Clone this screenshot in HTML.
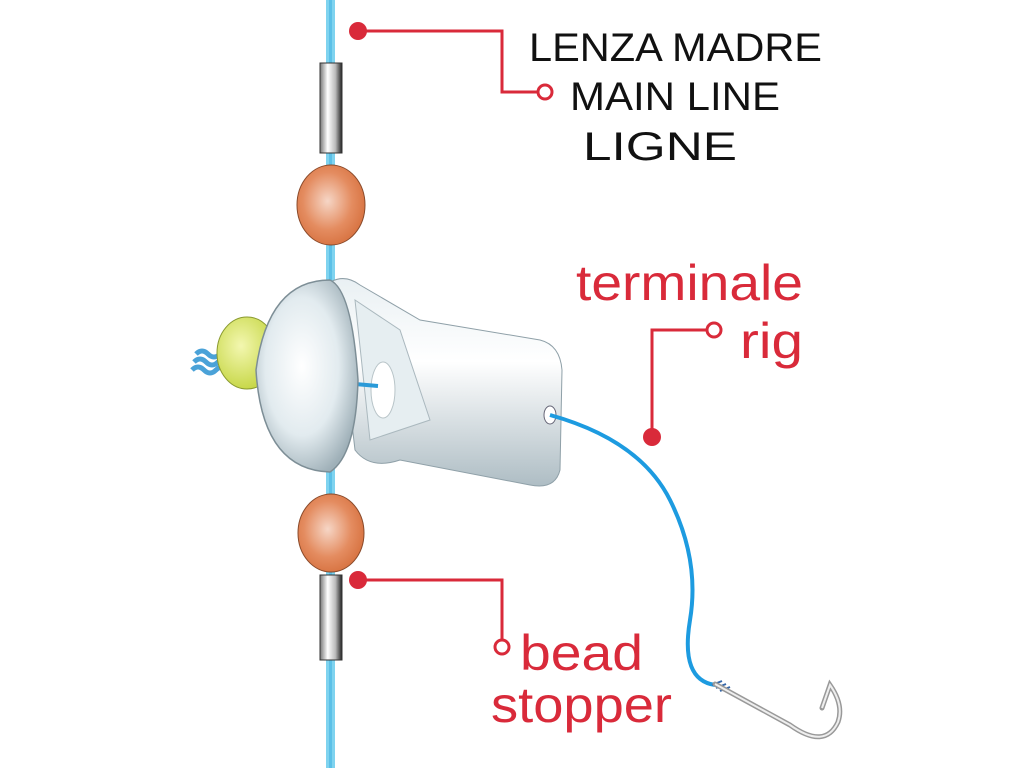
<!DOCTYPE html>
<html><head><meta charset="utf-8"><style>
html,body{margin:0;padding:0;background:#fff;width:1024px;height:768px;overflow:hidden}
svg{display:block}
</style></head><body>
<svg width="1024" height="768" viewBox="0 0 1024 768" xmlns="http://www.w3.org/2000/svg">
<defs>
<radialGradient id="bead" cx="0.45" cy="0.45" r="0.6"><stop offset="0" stop-color="#f6d6c6"/><stop offset="0.6" stop-color="#e48c60"/><stop offset="1" stop-color="#d6703e"/></radialGradient>
<linearGradient id="stop" x1="0" x2="1"><stop offset="0" stop-color="#777"/><stop offset="0.35" stop-color="#fff"/><stop offset="0.7" stop-color="#bbb"/><stop offset="1" stop-color="#222"/></linearGradient>
<radialGradient id="dome" cx="0.45" cy="0.45" r="0.6"><stop offset="0" stop-color="#ffffff"/><stop offset="0.6" stop-color="#e2ebef"/><stop offset="1" stop-color="#9fb0b8"/></radialGradient>
<linearGradient id="body" x1="0" y1="0" x2="0" y2="1"><stop offset="0" stop-color="#e9f0f3"/><stop offset="0.4" stop-color="#ffffff"/><stop offset="1" stop-color="#aebdc4"/></linearGradient>
<radialGradient id="yel" cx="0.4" cy="0.4" r="0.6"><stop offset="0" stop-color="#f3f7b0"/><stop offset="1" stop-color="#c8d84a"/></radialGradient>
</defs>
<rect x="326" y="0" width="9" height="768" fill="#7fd3ef"/>
<rect x="329" y="0" width="3" height="768" fill="#3aaee0" opacity="0.5"/>
<rect x="320" y="63" width="22" height="90" fill="url(#stop)" stroke="#333" stroke-width="1"/>
<rect x="320" y="575" width="22" height="85" fill="url(#stop)" stroke="#333" stroke-width="1"/>
<ellipse cx="331" cy="205" rx="34" ry="40" fill="url(#bead)" stroke="#8a4a2a" stroke-width="1"/>
<ellipse cx="331" cy="533" rx="33" ry="39" fill="url(#bead)" stroke="#8a4a2a" stroke-width="1"/>
<path d="M192 370 q6 -6 12 0 q6 6 12 0 q6 -6 12 0 M194 362 q6 -6 12 0 q6 6 12 0 q6 -6 12 0 M196 354 q6 -6 12 0 q6 6 12 0" stroke="#4aa2d8" stroke-width="5" fill="none"/>
<ellipse cx="247" cy="353" rx="30" ry="36" fill="url(#yel)" stroke="#8a9a30" stroke-width="1"/>
<path d="M320 290 Q340 270 360 285 L420 320 L540 340 Q560 345 562 370 L560 470 Q555 490 530 485 L400 460 Q370 470 355 450 L340 320 Z" fill="url(#body)" stroke="#8fa0a8" stroke-width="1"/>
<path d="M355 300 L400 330 L430 420 L370 440 Z" fill="#e6eef1" stroke="#aab8be" stroke-width="1"/>
<ellipse cx="383" cy="390" rx="12" ry="28" fill="#fff" stroke="#b8c4c8"/>
<line x1="355" y1="384" x2="378" y2="386" stroke="#2a9ad8" stroke-width="4"/>
<ellipse cx="550" cy="415" rx="6" ry="9" fill="#fff" stroke="#667"/>
<path d="M330 280 Q268 280 256 370 Q262 470 330 472 Q356 455 358 380 Q352 290 330 280 Z" fill="url(#dome)" stroke="#7d8e96" stroke-width="1.5"/>
<path d="M550 415 Q640 440 670 500 Q700 560 690 620 Q680 680 715 685" stroke="#1d9be0" stroke-width="4" fill="none"/>
<path d="M712 685 l10 -4 M716 688 l10 -4 M720 691 l10 -4" stroke="#3366aa" stroke-width="2"/>
<path d="M715 684 L790 725 Q825 750 838 722 Q844 705 830 685 L822 708" stroke="#999" stroke-width="5" fill="none" stroke-linecap="round"/>
<path d="M715 684 L790 725 Q825 750 838 722 Q844 705 830 685 L822 708" stroke="#eee" stroke-width="2" fill="none"/>
<g stroke="#d92a3a" stroke-width="3" fill="none">
<polyline points="358,31 502,31 502,92 538,92"/>
<polyline points="652,437 652,330 707,330"/>
<polyline points="358,580 502,580 502,640"/>
</g>
<g fill="#d92a3a">
<circle cx="358" cy="31" r="9"/><circle cx="652" cy="437" r="9"/><circle cx="358" cy="580" r="9"/>
</g>
<g fill="#fff" stroke="#d92a3a" stroke-width="3">
<circle cx="545" cy="92" r="7"/><circle cx="714" cy="330" r="7"/><circle cx="502" cy="647" r="7"/>
</g>
<g font-family="Liberation Sans, sans-serif" fill="#111" font-size="40">
<text x="529" y="61" textLength="293" lengthAdjust="spacingAndGlyphs">LENZA MADRE</text>
<text x="570" y="110" textLength="210" lengthAdjust="spacingAndGlyphs">MAIN LINE</text>
<text x="583" y="160" textLength="154" lengthAdjust="spacingAndGlyphs">LIGNE</text>
</g>
<g font-family="Liberation Sans, sans-serif" fill="#d92a3a" font-size="50">
<text x="576" y="300" textLength="227" lengthAdjust="spacingAndGlyphs">terminale</text>
<text x="740" y="358" textLength="63" lengthAdjust="spacingAndGlyphs">rig</text>
<text x="520" y="670" textLength="123" lengthAdjust="spacingAndGlyphs">bead</text>
<text x="491" y="722" textLength="181" lengthAdjust="spacingAndGlyphs">stopper</text>
</g>
</svg>
</body></html>
